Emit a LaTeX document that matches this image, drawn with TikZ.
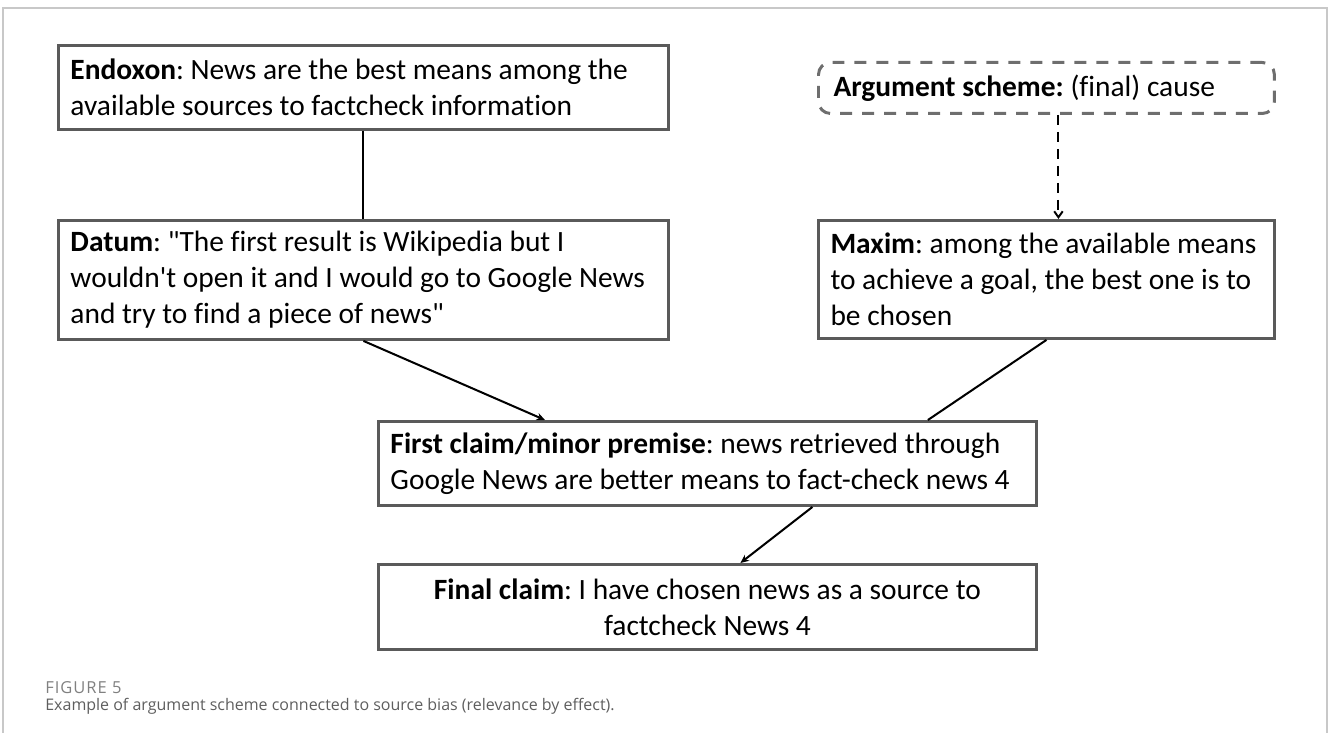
\documentclass[tikz,border=0pt]{standalone}
\usepackage{fontspec}
\setmainfont{Carlito}[Ligatures={TeXOff,NoCommon}]
\newfontfamily\captionfont{Open Sans}
\usetikzlibrary{positioning,arrows.meta}

\definecolor{boxgray}{HTML}{5A5A5A}
\definecolor{dashgray}{HTML}{6E6E6E}
\definecolor{framegray}{HTML}{C8C8C8}
\definecolor{figgray}{HTML}{808080}
\definecolor{capgray}{HTML}{5E5E5E}
\newcommand\argfont{\fontsize{16.75pt}{20.49pt}\selectfont\frenchspacing}

\begin{document}
\begin{tikzpicture}[x=0.02cm, y=-0.02cm,
    claimbox/.style={draw=boxgray, line width=1.7pt, inner xsep=0.24cm, inner ysep=0pt, align=flush left, font=\argfont},
    schemebox/.style={draw=dashgray, line width=1.7pt, dash pattern=on 0.24cm off 0.2cm, rounded corners=0.24cm, inner xsep=0.3cm, inner ysep=0pt, align=flush left, font=\argfont},
    edge/.style={line width=1.15pt, color=black},
    arrow/.style={-{Stealth[length=0.17cm, width=0.15cm]}, line width=1.15pt, color=black},
    dasharrow/.style={-{Straight Barb[length=0.12cm, width=0.17cm]}, line width=1.1pt, dash pattern=on 0.2cm off 0.14cm, color=black}]

    \useasboundingbox (0,0) rectangle (1328,733);
    \draw[framegray, line width=1.1pt] (3,733) -- (3,8) -- (1327,8) -- (1327,733);

    % left column
    \node (endoxon) [claimbox, text width=11.72cm, minimum height=1.68cm, anchor=north west] at (57,44)
        {\mbox{\textbf{Endoxon}: News are the best means among the}\\
         \mbox{available sources to factcheck information}};
    \node (datum) [claimbox, text width=11.72cm, minimum height=2.38cm, below=1.76cm of endoxon]
        {\mbox{\textbf{Datum}: "The first result is Wikipedia but I}\\
         \mbox{wouldn't open it and I would go to Google News}\\
         \mbox{and try to find a piece of news"}};

    % right column
    \node (scheme) [schemebox, text width=8.52cm, minimum height=1.02cm, anchor=north west] at (817,61)
        {\mbox{\textbf{Argument scheme:} (final) cause}};
    \node (maxim) [claimbox, text width=8.64cm, minimum height=2.36cm, below=2.08cm of scheme]
        {\mbox{\textbf{Maxim}: among the available means}\\
         \mbox{to achieve a goal, the best one is to}\\
         \mbox{be chosen}};

    % claims
    \node (firstclaim) [claimbox, text width=12.68cm, minimum height=1.68cm, anchor=north west] at (377,420)
        {\mbox{\textbf{First claim/minor premise}: news retrieved through}\\
         \mbox{Google News are better means to fact-check news 4}};
    \node (finalclaim) [claimbox, align=flush center, text width=12.68cm, minimum height=1.7cm, below=1.12cm of firstclaim]
        {\mbox{\textbf{Final claim}: I have chosen news as a source to}\\
         \mbox{factcheck News 4}};

    \draw [edge] (endoxon) -- (datum);
    \draw [dasharrow] ([xshift=0.24cm]scheme.south) -- ([xshift=0.24cm]maxim.north);
    \draw [arrow] (datum.south) -- ([xshift=3.36cm]firstclaim.north west);
    \draw [edge] (maxim.south) -- ([xshift=11.02cm]firstclaim.north west);
    \draw [arrow] ([xshift=2.1cm]firstclaim.south) -- ([xshift=0.66cm]finalclaim.north);

    % caption
    \node (figlabel) [anchor=west, inner sep=0pt, text=figgray, font=\captionfont\fontsize{9.4pt}{11pt}\selectfont\addfontfeature{LetterSpace=6}] at (45,688) {FIGURE 5};
    \node (figcaption) [anchor=west, inner sep=0pt, text=capgray, font=\captionfont\fontsize{9.1pt}{11pt}\selectfont] at (45,706)
        {Example of argument scheme connected to source bias (relevance by effect).};
\end{tikzpicture}
\end{document}
